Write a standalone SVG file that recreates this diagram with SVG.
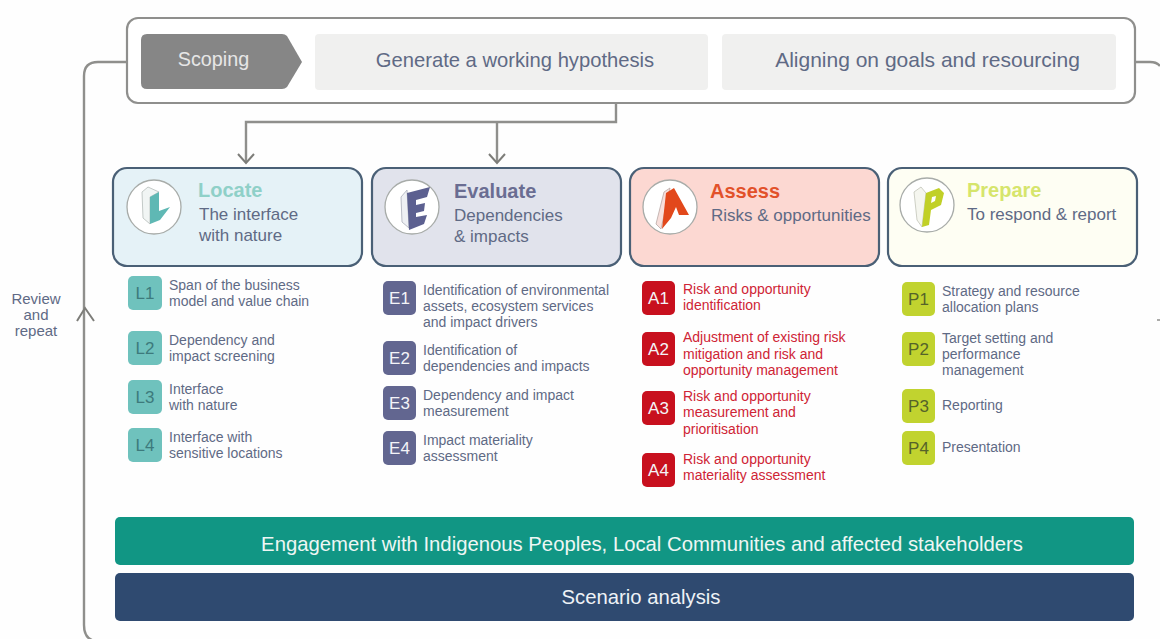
<svg xmlns="http://www.w3.org/2000/svg" width="1160" height="639" viewBox="0 0 1160 639">
<style>
text{font-family:"Liberation Sans",Arial,sans-serif;fill:#5f6a85}
.conn{fill:none;stroke:#8f8f8c;stroke-width:2.4}
.head{fill:none;stroke:#7d7d79;stroke-width:2}
.card{stroke:#4a6076;stroke-width:2.2}
.ring{fill:#fff;stroke:#a8aca9;stroke-width:1.3}
.h{font-size:20px;font-weight:700}
.s{font-size:17px}
.i{font-size:14px}
.b{font-size:17px;text-anchor:middle;dominant-baseline:central}
.bw{fill:#f4f4f8}
.r{fill:#cf2435}
.lb{fill:#6fc2bd}
.lt{fill:#3d7a7c}
.eb{fill:#626690}
.ab{fill:#c8101e}
.pb{fill:#c1d32f}
.pt{fill:#55632a}
.rv{font-size:15px;text-anchor:middle}
</style>
<rect width="1160" height="639" fill="#fefefe"/>
<g id="connectors">
<path class="conn" d="M127 62H98Q84 62 84 76V625Q84 637 92 640"/>
<path class="conn" d="M1135 62H1150Q1157 62 1160 66"/>
<path class="conn" d="M616 104V122H246V162"/>
<path class="conn" d="M497 122V162"/>
<path class="head" d="M238 154L246 163L254 154"/>
<path class="head" d="M489 154L497 163L505 154"/>
<path class="head" d="M77 321L85 308L94 321"/>
<path class="conn" style="stroke-width:1.5" d="M1157 320H1160"/>
</g>
<g id="scoping-frame"><rect x="127" y="18" width="1008" height="85" rx="11" fill="#fff" stroke="#8f8f8d" stroke-width="2.2"/></g>
<g id="scoping"><path d="M147 34H282Q285 34 287 36L302 62L287 87Q285 89 282 89H147Q141 89 141 83V40Q141 34 147 34Z" fill="#868686"/><text x="213.500" y="66" text-anchor="middle" style="font-size:19.800px;fill:#e6e6e6">Scoping</text></g>
<g id="hypothesis"><rect x="315" y="34" width="393" height="56" rx="4" fill="#f0f0ef"/><text x="515" y="67" text-anchor="middle" style="font-size:20.200px">Generate a working hypothesis</text></g>
<g id="aligning"><rect x="722" y="34" width="394" height="56" rx="4" fill="#f0f0ef"/><text x="927.500" y="67" text-anchor="middle" style="font-size:21px">Aligning on goals and resourcing</text></g>
<g id="locate"><rect class="card" x="113" y="168" width="249" height="98" rx="14" fill="#e5f2f7"/><circle class="ring" cx="154" cy="207" r="27"/><path d="M142 192L148 187L159 192L150 197V224L143 218Z" fill="#f1f5f4" stroke="#b5bcba" stroke-width="0.800"/><path d="M150 197L159 192V211L170 207L160 220L150 224Z" fill="#5fb8b4"/><text class="h" x="198" y="197" style="fill:#8fd0c8">Locate</text><text class="s" x="199" y="220">The interface</text><text class="s" x="199" y="241">with nature</text></g>
<g id="evaluate"><rect class="card" x="372" y="168" width="249" height="98" rx="14" fill="#e1e3ec"/><circle class="ring" cx="412" cy="207" r="27"/><path d="M401 197L407 190L409 228L402 222Z" fill="#eef0f4" stroke="#a9adb9" stroke-width="0.800"/><path d="M407 193L430 187L427 197L416 200V205L425 203L424 211L416 213V217L427 215L424 224L409 230Z" fill="#5c6090"/><text class="h" x="454" y="198" style="fill:#6a6d92">Evaluate</text><text class="s" x="454" y="221">Dependencies</text><text class="s" x="454" y="242">&amp; impacts</text></g>
<g id="assess"><rect class="card" x="630" y="168" width="249" height="98" rx="14" fill="#fcd8d2"/><circle class="ring" cx="670" cy="207" r="27"/><path d="M656 224L664 192L670 188L661 229Z" fill="#f8dfdb" stroke="#b9a8a6" stroke-width="0.800"/><path d="M666 193L674 188L689 215L679 215L676 207L671 218L662 229Z" fill="#e2481b"/><text class="h" x="710" y="198" style="fill:#e2512a">Assess</text><text class="s" x="711" y="221">Risks &amp; opportunities</text></g>
<g id="prepare"><rect class="card" x="888" y="168" width="249" height="98" rx="14" fill="#fefef3"/><circle class="ring" cx="927" cy="205" r="27"/><path d="M914 192L921 187L926 193L922 227L917 220Z" fill="#f5f6ef" stroke="#c2c4b8" stroke-width="0.800"/><path d="M926 193L939 188L944 193L941 205L931 210L929 225L922 227ZM932 197L931 203L935 201L936 196Z" fill="#c1d028" fill-rule="evenodd"/><text class="h" x="967" y="197" style="fill:#d6e56c">Prepare</text><text class="s" x="967" y="220">To respond &amp; report</text></g>
<g id="L1"><rect class="lb" x="128" y="276" width="34" height="34" rx="5"/><text class="b lt" x="145" y="293">L1</text><text class="i" x="169" y="290">Span of the business</text><text class="i" x="169" y="306">model and value chain</text></g>
<g id="L2"><rect class="lb" x="128" y="331" width="34" height="34" rx="5"/><text class="b lt" x="145" y="348">L2</text><text class="i" x="169" y="345">Dependency and</text><text class="i" x="169" y="361">impact screening</text></g>
<g id="L3"><rect class="lb" x="128" y="380" width="34" height="34" rx="5"/><text class="b lt" x="145" y="397">L3</text><text class="i" x="169" y="394">Interface</text><text class="i" x="169" y="410">with nature</text></g>
<g id="L4"><rect class="lb" x="128" y="428" width="34" height="34" rx="5"/><text class="b lt" x="145" y="445">L4</text><text class="i" x="169" y="442">Interface with</text><text class="i" x="169" y="458">sensitive locations</text></g>
<g id="E1"><rect class="eb" x="383" y="281" width="33" height="34" rx="5"/><text class="b bw" x="399.500" y="298">E1</text><text class="i" x="423" y="295">Identification of environmental</text><text class="i" x="423" y="311">assets, ecosystem services</text><text class="i" x="423" y="327">and impact drivers</text></g>
<g id="E2"><rect class="eb" x="383" y="341" width="33" height="34" rx="5"/><text class="b bw" x="399.500" y="358">E2</text><text class="i" x="423" y="355">Identification of</text><text class="i" x="423" y="371">dependencies and impacts</text></g>
<g id="E3"><rect class="eb" x="383" y="386" width="33" height="34" rx="5"/><text class="b bw" x="399.500" y="403">E3</text><text class="i" x="423" y="400">Dependency and impact</text><text class="i" x="423" y="416">measurement</text></g>
<g id="E4"><rect class="eb" x="383" y="431" width="33" height="34" rx="5"/><text class="b bw" x="399.500" y="448">E4</text><text class="i" x="423" y="445">Impact materiality</text><text class="i" x="423" y="461">assessment</text></g>
<g id="A1"><rect class="ab" x="642" y="281" width="33" height="34" rx="5"/><text class="b bw" x="658.500" y="298">A1</text><text class="i r" x="683" y="294">Risk and opportunity</text><text class="i r" x="683" y="310">identification</text></g>
<g id="A2"><rect class="ab" x="642" y="332" width="33" height="34" rx="5"/><text class="b bw" x="658.500" y="349">A2</text><text class="i r" x="683" y="342">Adjustment of existing risk</text><text class="i r" x="683" y="359">mitigation and risk and</text><text class="i r" x="683" y="375">opportunity management</text></g>
<g id="A3"><rect class="ab" x="642" y="391" width="33" height="34" rx="5"/><text class="b bw" x="658.500" y="408">A3</text><text class="i r" x="683" y="401">Risk and opportunity</text><text class="i r" x="683" y="417">measurement and</text><text class="i r" x="683" y="434">prioritisation</text></g>
<g id="A4"><rect class="ab" x="642" y="453" width="33" height="34" rx="5"/><text class="b bw" x="658.500" y="470">A4</text><text class="i r" x="683" y="464">Risk and opportunity</text><text class="i r" x="683" y="480">materiality assessment</text></g>
<g id="P1"><rect class="pb" x="902" y="282" width="33" height="34" rx="5"/><text class="b pt" x="918.500" y="299">P1</text><text class="i" x="942" y="296">Strategy and resource</text><text class="i" x="942" y="312">allocation plans</text></g>
<g id="P2"><rect class="pb" x="902" y="332" width="33" height="34" rx="5"/><text class="b pt" x="918.500" y="349">P2</text><text class="i" x="942" y="343">Target setting and</text><text class="i" x="942" y="359">performance</text><text class="i" x="942" y="375">management</text></g>
<g id="P3"><rect class="pb" x="902" y="389" width="33" height="34" rx="5"/><text class="b pt" x="918.500" y="406">P3</text><text class="i" x="942" y="410">Reporting</text></g>
<g id="P4"><rect class="pb" x="902" y="431" width="33" height="34" rx="5"/><text class="b pt" x="918.500" y="448">P4</text><text class="i" x="942" y="452">Presentation</text></g>
<g id="engagement"><rect x="115" y="517" width="1019" height="48" rx="5" fill="#119684"/><text x="642" y="551" text-anchor="middle" style="font-size:20.300px;fill:#eef6f4">Engagement with Indigenous Peoples, Local Communities and affected stakeholders</text></g>
<g id="scenario"><rect x="115" y="573" width="1019" height="48" rx="5" fill="#2f4a70"/><text x="641" y="604" text-anchor="middle" style="font-size:20.300px;fill:#eef2f6">Scenario analysis</text></g>
<g id="review"><text class="rv" x="36" y="304">Review</text><text class="rv" x="36" y="320">and</text><text class="rv" x="36" y="336">repeat</text></g>
</svg>
